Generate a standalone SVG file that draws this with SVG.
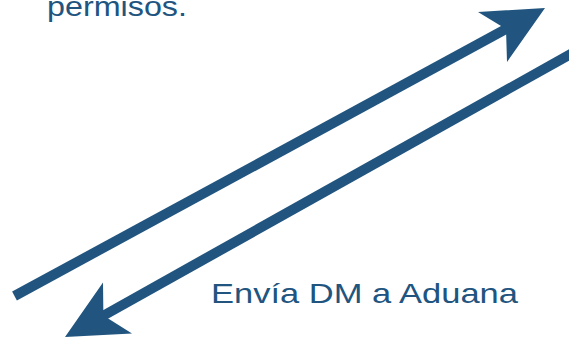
<svg xmlns="http://www.w3.org/2000/svg" width="569" height="338" viewBox="0 0 569 338">
<style>
.lbl{font-family:"Liberation Sans",Arial,sans-serif;font-size:28px;fill:#21557f}
.shaft{stroke:#21557f;stroke-width:10;fill:none;stroke-linecap:butt}
.head{fill:#21557f}
</style>
<rect width="569" height="338" fill="#ffffff"/>
<g id="label-permisos"><text class="lbl" x="47" y="15.5" font-size="26" textLength="140" lengthAdjust="spacingAndGlyphs">permisos.</text></g>
<g id="label-envia"><text class="lbl" x="211" y="303" textLength="307" lengthAdjust="spacingAndGlyphs">Envía DM a Aduana</text></g>
<g id="connectors">
<path class="shaft" d="M14.5,296 L508,28"/>
<polygon class="head" points="545,8 478,12 506,29 507,62"/>
<path class="shaft" d="M580,48.8 L101,317"/>
<polygon class="head" points="65,337 103,282.5 103.4,315.5 132,333.5"/>
</g>
</svg>
